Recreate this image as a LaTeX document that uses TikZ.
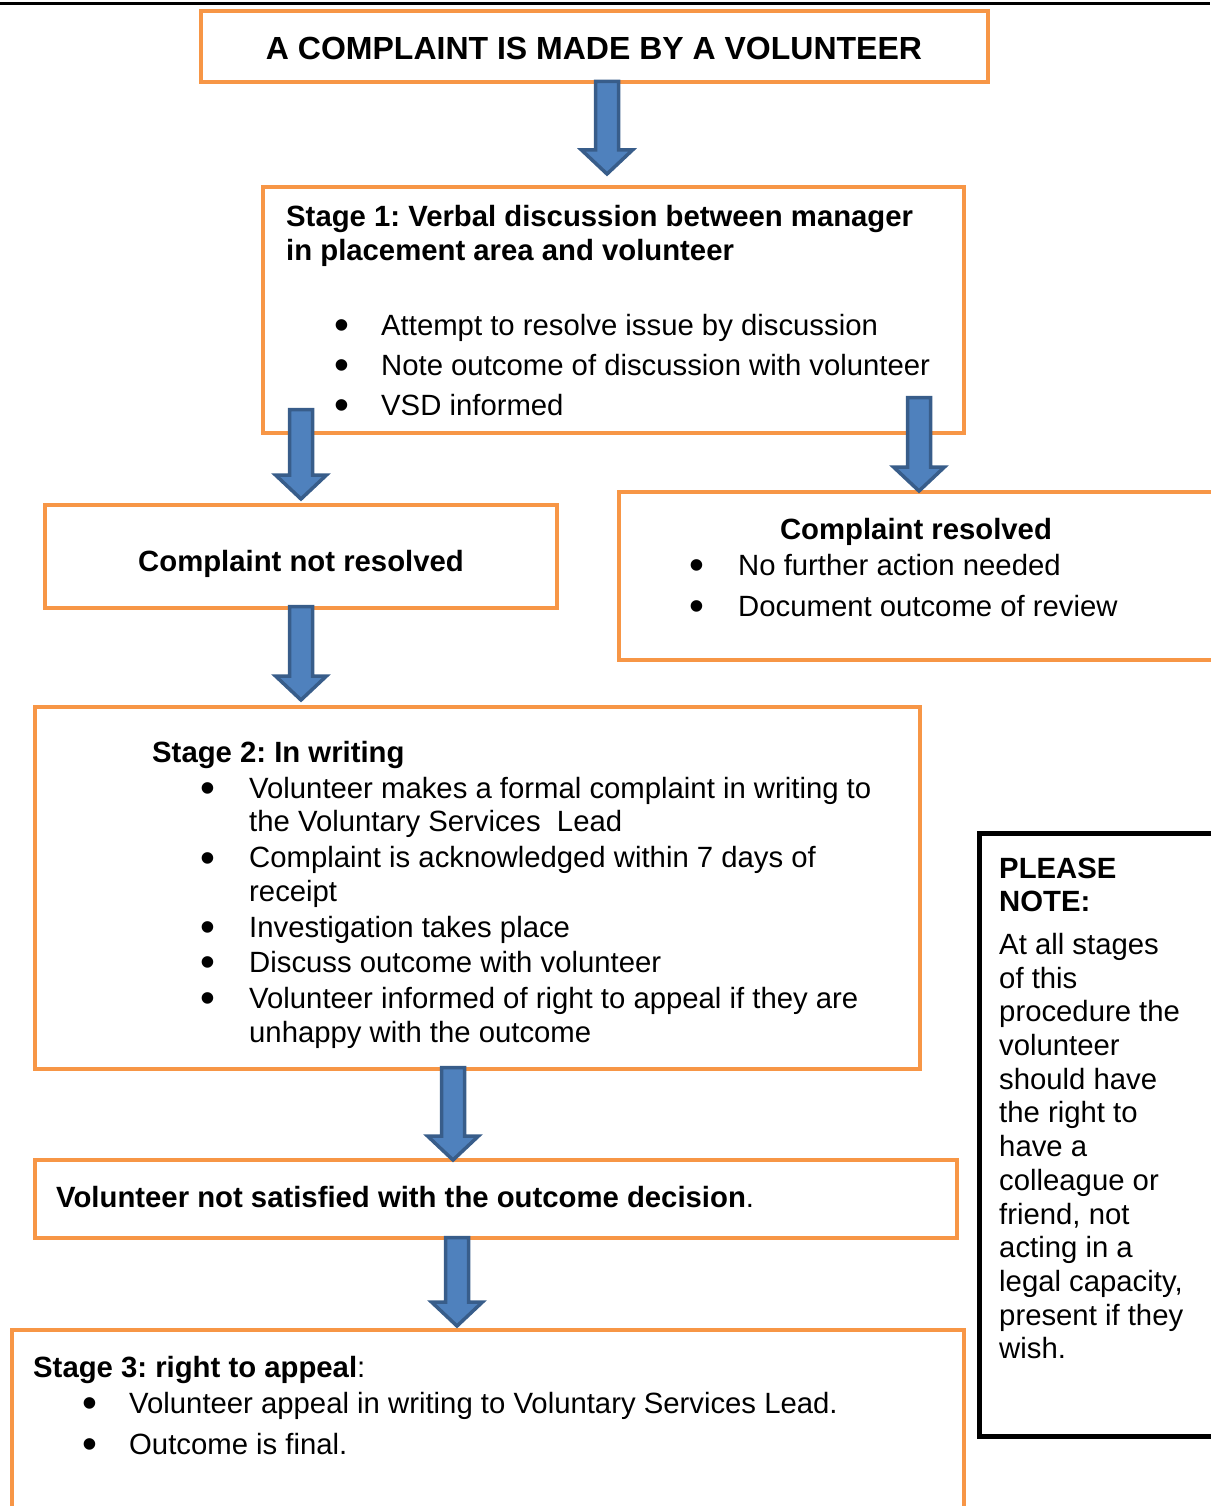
\documentclass[tikz,border=0pt]{standalone}
\usepackage{fontspec}
\setmainfont{Liberation Sans}
\usepackage{array}
\usepackage{graphicx}
\usetikzlibrary{positioning, calc}
\definecolor{boxorange}{HTML}{F79646}
\definecolor{arrowblue}{HTML}{4F81BD}
\definecolor{arrowedge}{HTML}{385D8A}
\frenchspacing

% block arrow pointing down, from #1 to the tip #2
\newcommand{\blockarr}[2]{%
  \filldraw[fill=arrowblue, draw=arrowedge, line width=3.5pt, line join=miter]
    let \p1=(#1), \p2=(#2) in
    (\x1-11.5pt,\y1) -- (\x1+11.5pt,\y1) -- (\x1+11.5pt,\y2+24pt)
    -- (\x1+25.5pt,\y2+24pt) -- (\x1,\y2) -- (\x1-25.5pt,\y2+24pt)
    -- (\x1-11.5pt,\y2+24pt) -- cycle;}
\newcommand{\bul}{\smash{\raisebox{-4.5pt}{\scalebox{1.45}{\textbullet}}}}

\begin{document}
\begin{tikzpicture}[x=1pt, y=-1pt,
    obox/.style={draw=boxorange, line width=4pt, anchor=north west, inner sep=0pt, outer sep=0pt},
    txt/.style={anchor=base west, inner sep=0pt, font=\fontsize{29.3}{33.7}\selectfont},
    bigtxt/.style={anchor=base, inner sep=0pt, font=\fontsize{32}{36}\selectfont\bfseries}]
    \useasboundingbox (0,0) rectangle (1210,1506);
    \draw[line width=3pt] (0,3.5) -- (1210,3.5);

    % boxes
    \node [obox, minimum width=787pt, minimum height=71pt] (complaint) at (201,11) {};
    \node [obox, minimum width=701pt, minimum height=246pt] (stageone) at (263,187) {};
    \node [obox, minimum width=512pt, minimum height=103pt] (notresolved) at (45,505) {};
    \node [obox, minimum width=600pt, minimum height=168pt] (resolved) at (619,492) {};
    \node [obox, minimum width=885pt, minimum height=362pt] (stagetwo) at (35,707) {};
    \node [obox, minimum width=922pt, minimum height=78pt] (notsatisfied) at (35,1160) {};
    \node [obox, minimum width=952pt, minimum height=200pt] (stagethree) at (12,1330) {};
    \node [obox, draw=black, line width=5pt, minimum width=250pt, minimum height=603pt] (note) at (979,833) {};

    % texts
    \node [bigtxt] (complainttext) at (594,59.5) {A COMPLAINT IS MADE BY A VOLUNTEER};

    \node [txt] (stageonehead) at (286,227) {\begin{tabular}[t]{@{}l@{}}
      \textbf{Stage 1: Verbal discussion between manager}\\
      \textbf{in placement area and volunteer}
    \end{tabular}};
    \node [txt] (stageonelist) at (334,335) {\begin{tabular}[t]{@{}p{47pt}@{}l@{}}
      \bul & Attempt to resolve issue by discussion\\[6.3pt]
      \bul & Note outcome of discussion with volunteer\\[6.3pt]
      \bul & VSD informed
    \end{tabular}};

    \node [txt, anchor=base] (notresolvedtext) at (301,571) {\textbf{Complaint not resolved}};

    \node [txt, anchor=base] (resolvedhead) at (916,539) {\textbf{Complaint resolved}};
    \node [txt] (resolvedlist) at (689,575) {\begin{tabular}[t]{@{}p{49pt}@{}l@{}}
      \bul & No further action needed\\[7.3pt]
      \bul & Document outcome of review
    \end{tabular}};

    \node [txt] (stagetwohead) at (152,762) {\textbf{Stage 2: In writing}};
    \node [txt] (stagetwolist) at (200,798) {\begin{tabular}[t]{@{}p{49pt}@{}l@{}}
      \bul & Volunteer makes a formal complaint in writing to\\
           & the Voluntary Services~ Lead\\[2.3pt]
      \bul & Complaint is acknowledged within 7 days of\\
           & receipt\\[2.3pt]
      \bul & Investigation takes place\\[1.3pt]
      \bul & Discuss outcome with volunteer\\[2.3pt]
      \bul & Volunteer informed of right to appeal if they are\\
           & unhappy with the outcome
    \end{tabular}};

    \node [txt] (notsatisfiedtext) at (56,1207) {\textbf{Volunteer not satisfied with the outcome decision}.};

    \node [txt] (stagethreehead) at (33,1377) {\textbf{Stage 3: right to appeal}:};
    \node [txt] (stagethreelist) at (82,1413) {\begin{tabular}[t]{@{}p{47pt}@{}l@{}}
      \bul & Volunteer appeal in writing to Voluntary Services Lead.\\[7.3pt]
      \bul & Outcome is final.
    \end{tabular}};

    \node [txt] (notetext) at (999,878) {\begin{tabular}[t]{@{}l@{}}
      \textbf{PLEASE}\\
      \textbf{NOTE:}\\[9pt]
      At all stages\\
      of this\\
      procedure the\\
      volunteer\\
      should have\\
      the right to\\
      have a\\
      colleague or\\
      friend, not\\
      acting in a\\
      legal capacity,\\
      present if they\\
      wish.
    \end{tabular}};

    % arrows
    \coordinate (aonetop) at (607,81.5);
    \coordinate (aonetip) at (607,174);
    \coordinate (atwotop) at (301,409.5);
    \coordinate (atwotip) at (301,499);
    \coordinate (athreetop) at (919,397.5);
    \coordinate (athreetip) at (919,491);
    \coordinate (afourtop) at (301,606.5);
    \coordinate (afourtip) at (301,700);
    \coordinate (afivetop) at (453,1067.5);
    \coordinate (afivetip) at (453,1160);
    \coordinate (asixtop) at (457,1237.5);
    \coordinate (asixtip) at (457,1326);
    \blockarr{aonetop}{aonetip}
    \blockarr{atwotop}{atwotip}
    \blockarr{athreetop}{athreetip}
    \blockarr{afourtop}{afourtip}
    \blockarr{afivetop}{afivetip}
    \blockarr{asixtop}{asixtip}
\end{tikzpicture}
\end{document}
